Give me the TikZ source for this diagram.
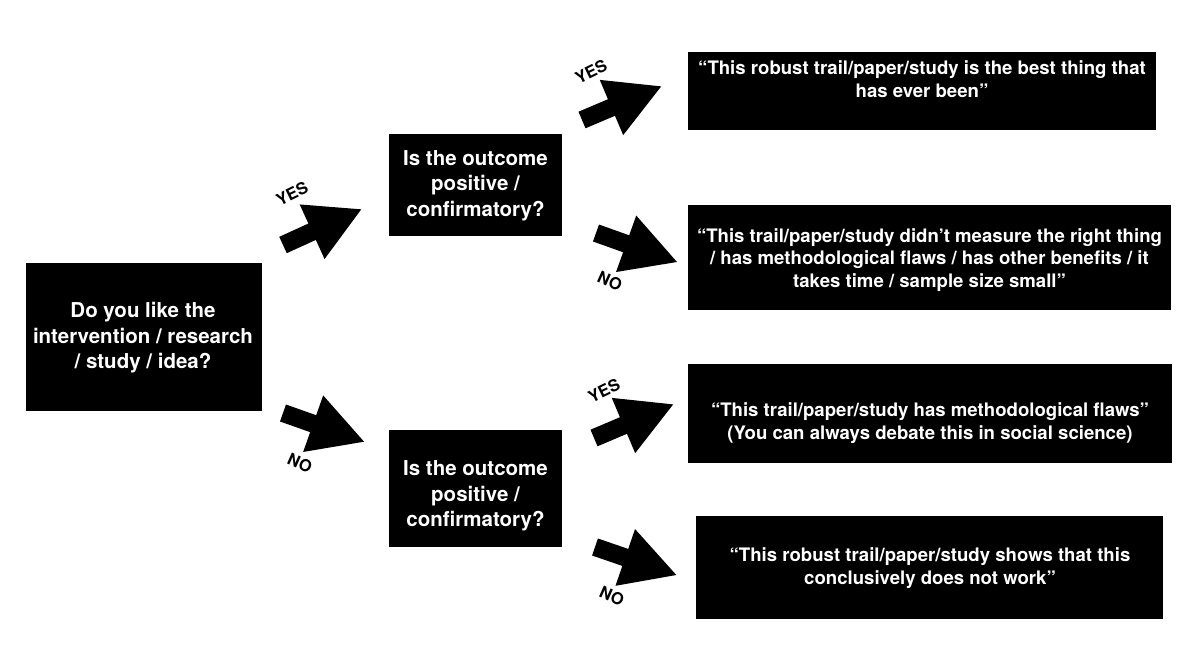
\documentclass[tikz,border=0pt]{standalone}
\usepackage{fontspec}
\setmainfont{TeX Gyre Heros}
\begin{document}
\begin{tikzpicture}[x=1pt,y=-1pt,
  box/.style={fill=black,draw=none,inner sep=0pt},
  big/.style={text=white,align=center,font=\bfseries\fontsize{20.5}{25.5}\selectfont,inner sep=0pt},
  med/.style={text=white,align=center,font=\bfseries\fontsize{18.6}{22.5}\selectfont,inner sep=0pt},
  lab/.style={font=\bfseries\fontsize{16.5}{16.5}\selectfont,inner sep=0pt},
  fatarrow/.pic={\fill (0,-9) -- (32,-9) -- (32,-30) -- (86,0) -- (32,30) -- (32,9) -- (0,9) -- cycle;}
]
\useasboundingbox (0,0) rectangle (1200,648);
\fill[white] (0,0) rectangle (1200,648);

% boxes
\node[box,minimum width=236pt,minimum height=148pt] (A) at (144,337) {};
\node[box,minimum width=173pt,minimum height=102pt] (B1) at (475.5,185) {};
\node[box,minimum width=173pt,minimum height=117pt] (B2) at (475.5,488.5) {};
\node[box,minimum width=468pt,minimum height=78pt] (C1) at (922,91) {};
\node[box,minimum width=483pt,minimum height=105pt] (C2) at (929.5,257.5) {};
\node[box,minimum width=484pt,minimum height=99pt] (C3) at (930,413.5) {};
\node[box,minimum width=467pt,minimum height=103pt] (C4) at (929.5,567.5) {};

% texts
\node[big] (tA) at (143,338) {Do you like the\\intervention / research\\/ study / idea?};
\node[big] (tB1) at (475.5,185.5) {Is the outcome\\positive /\\confirmatory?};
\node[big] (tB2) at (475.5,496) {Is the outcome\\positive /\\confirmatory?};
\node[med] (tC1) at (922,79) {“This robust trail/paper/study is the best thing that\\has ever been”};
\node[med] (tC2) at (929.5,260) {“This trail/paper/study didn’t measure the right thing\\/ has methodological flaws / has other benefits / it\\takes time / sample size small”};
\node[med] (tC3) at (930,423) {“This trail/paper/study has methodological flaws”\\(You can always debate this in social science)};
\node[med] (tC4) at (930,568) {“This robust trail/paper/study shows that this\\conclusively does not work”};

% block arrows
\path (283,245) pic[rotate=24.5] {fatarrow};
\path (283,413) pic[rotate=-19.5] {fatarrow};
\path (582,120) pic[rotate=23] {fatarrow};
\path (596,233) pic[rotate=-19.7] {fatarrow};
\path (594,438) pic[rotate=23] {fatarrow};
\path (595,547) pic[rotate=-19] {fatarrow};

% labels
\node[lab,rotate=26] (y1) at (292,194) {YES};
\node[lab,rotate=-24] (n1) at (300,463) {NO};
\node[lab,rotate=26] (y2) at (591,72) {YES};
\node[lab,rotate=-24] (n2) at (610,281) {NO};
\node[lab,rotate=26] (y3) at (604,391) {YES};
\node[lab,rotate=-24] (n3) at (612,596) {NO};
\end{tikzpicture}
\end{document}
